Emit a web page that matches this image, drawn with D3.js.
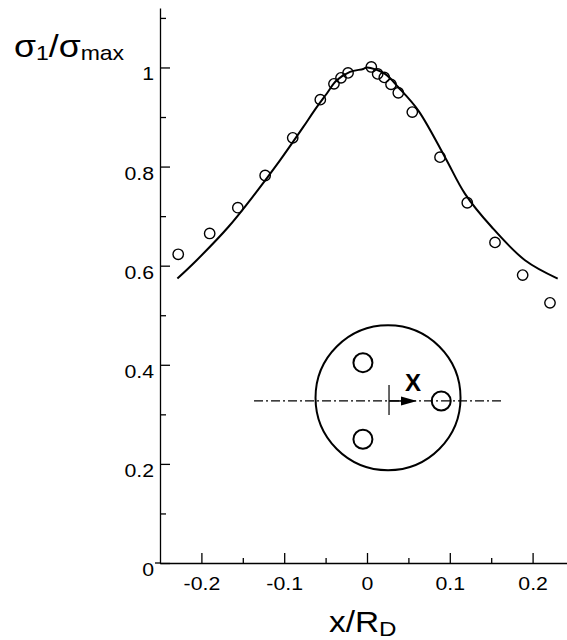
<!DOCTYPE html>
<html><head><meta charset="utf-8">
<script src="https://cdn.jsdelivr.net/npm/d3@7"></script>
<style>
body{margin:0;background:#fff}
svg{display:block}
text{font-family:"Liberation Sans",Arial,sans-serif;fill:#000}
.xt text{transform-box:fill-box;transform-origin:50% 50%;transform:scaleX(1.15)}
.yt text{transform-box:fill-box;transform-origin:100% 50%;transform:scaleX(1.15)}
.wl{transform-box:fill-box;transform-origin:0 50%;transform:scaleX(1.15)}
</style></head><body>
<svg id="chart" width="567" height="640"></svg>
<script>
// Measured normalised principal stress along the line through the hole
const measX = [-0.228,-0.190,-0.156,-0.123,-0.0897,-0.0564,-0.0399,-0.0314,-0.0229,0.0052,
               0.0129,0.0209,0.0290,0.0378,0.0547,0.0882,0.1211,0.1546,0.1880,0.2210];
const measY = [0.623,0.665,0.717,0.782,0.858,0.935,0.967,0.979,0.989,1.001,
               0.987,0.980,0.966,0.949,0.910,0.819,0.727,0.647,0.581,0.525];

// Computed curve
const modelX = [-0.229,-0.2057,-0.1675,-0.1353,-0.1051,-0.0769,-0.0628,-0.0487,-0.0366,-0.0205,
                -0.0045,0.0,0.0217,0.0378,0.062,0.0942,0.1184,0.1506,0.1908,0.2303];
const modelY = [0.574,0.611,0.678,0.745,0.8125,0.880,0.915,0.947,0.974,0.991,
                0.997,1.0,0.987,0.960,0.913,0.819,0.745,0.678,0.611,0.574];

const xMajor = [-0.2,-0.1,0,0.1,0.2];
const xMinor = [-0.15,-0.05,0.05,0.15];
const yMajor = [0,0.2,0.4,0.6,0.8,1];
const yMinor = [0.1,0.3,0.5,0.7,0.9,1.1];
const xLabels = ["-0.2","-0.1","0","0.1","0.2"];
const yLabels = ["0","0.2","0.4","0.6","0.8","1"];

// Disc schematic: three holes at 120° spacing, one on the x-axis
const holeAngles = [0,120,240];
const schematicAnchor = [0.0266, 0.327];   // origin of the local x axis, in chart units

const svg = d3.select("#chart");
const x = d3.scaleLinear().domain([-0.25,0.25]).range([160,574]);
const y = d3.scaleLinear().domain([0,1.12]).range([563,8]);

// minor ticks
svg.append("g").attr("transform","translate(0,563)")
  .call(d3.axisBottom(x).tickValues(xMinor).tickSize(-5).tickSizeOuter(0).tickFormat(""))
  .call(g=>g.select(".domain").remove())
  .selectAll("line").attr("stroke-width",1.3);
svg.append("g").attr("transform","translate(160,0)")
  .call(d3.axisLeft(y).tickValues(yMinor).tickSize(-6).tickSizeOuter(0).tickFormat(""))
  .call(g=>g.select(".domain").remove())
  .selectAll("line").attr("stroke-width",1.3);

// major axes
const gx = svg.append("g").attr("class","xt").attr("transform","translate(0,563)")
  .call(d3.axisBottom(x).tickValues(xMajor).tickSize(-10).tickSizeOuter(0)
        .tickFormat((d,i)=>xLabels[i]));
gx.select(".domain").attr("stroke-width",1.3);
gx.selectAll("line").attr("stroke-width",1.3);
gx.selectAll("text").attr("y",27).attr("dy",null).attr("font-size",18.5).attr("fill","#000");

const gy = svg.append("g").attr("class","yt").attr("transform","translate(160,0)")
  .call(d3.axisLeft(y).tickValues(yMajor).tickSize(-10).tickSizeOuter(0).tickPadding(6)
        .tickFormat((d,i)=>yLabels[i]));
gy.select(".domain").attr("stroke-width",1.3);
gy.selectAll("line").attr("stroke-width",1.3);
gy.selectAll("text").attr("dy",null).attr("y",12.5).attr("font-size",18.5).attr("fill","#000");
svg.append("line").attr("x1",x(-0.25)-5).attr("x2",x(-0.25)).attr("y1",y(0)).attr("y2",y(0))
  .attr("stroke","#000").attr("stroke-width",1.3);

// computed curve
const line = d3.line().x(d=>x(d[0])).y(d=>y(d[1])).curve(d3.curveCatmullRom.alpha(0.5));
svg.append("path").datum(d3.zip(modelX,modelY)).attr("d",line)
  .attr("fill","none").attr("stroke","#000").attr("stroke-width",2);

// measured points
svg.append("g").selectAll("circle").data(d3.zip(measX,measY)).join("circle")
  .attr("cx",d=>x(d[0])).attr("cy",d=>y(d[1])).attr("r",5.2)
  .attr("fill","none").attr("stroke","#000").attr("stroke-width",1.4);

// disc schematic
const ox = x(schematicAnchor[0]), oy = y(schematicAnchor[1]);
const sch = svg.append("g").attr("transform",`translate(${ox},${oy})`);
const u = d3.scaleLinear().domain([0,1]).range([0,72.5]); // disc radius units
sch.append("line").attr("x1",-135).attr("x2",112).attr("y1",0).attr("y2",0)
  .attr("stroke","#000").attr("stroke-width",1.2).attr("stroke-dasharray","9,3,2,3");
sch.append("circle").attr("cx",-1).attr("cy",-3.2).attr("r",u(1))
  .attr("fill","none").attr("stroke","#000").attr("stroke-width",2);
sch.selectAll("circle.hole").data(holeAngles).join("circle").attr("class","hole")
  .attr("cx",a=>u(0.72)*Math.cos(a*Math.PI/180))
  .attr("cy",a=>u(0.61)*Math.sin(a*Math.PI/180))
  .attr("r",9.5).attr("fill","none").attr("stroke","#000").attr("stroke-width",2);
sch.append("line").attr("x1",0).attr("x2",0).attr("y1",-16).attr("y2",14)
  .attr("stroke","#000").attr("stroke-width",1.2);
sch.append("line").attr("x1",0).attr("x2",14).attr("y1",0).attr("y2",0)
  .attr("stroke","#000").attr("stroke-width",1.5);
sch.append("path").attr("d","M12,-4.5L28,0L12,4.5Z").attr("fill","#000");
sch.append("text").attr("x",24).attr("y",-9.5).attr("text-anchor","middle")
  .attr("font-size",24).attr("font-weight","bold").text("X");

// axis titles
const yt = svg.append("text").attr("class","wl").attr("x",14).attr("y",57);
yt.append("tspan").attr("font-size",31).text("σ");
yt.append("tspan").attr("font-size",20).attr("dy",3).text("1");
yt.append("tspan").attr("font-size",31).attr("dy",-3).text("/σ");
yt.append("tspan").attr("font-size",20).attr("dy",3).text("max");

const xt = svg.append("text").attr("class","wl").attr("x",329).attr("y",632);
xt.append("tspan").attr("font-size",29).text("x/R");
xt.append("tspan").attr("font-size",21).attr("dy",4).text("D");
</script>
</body></html>
